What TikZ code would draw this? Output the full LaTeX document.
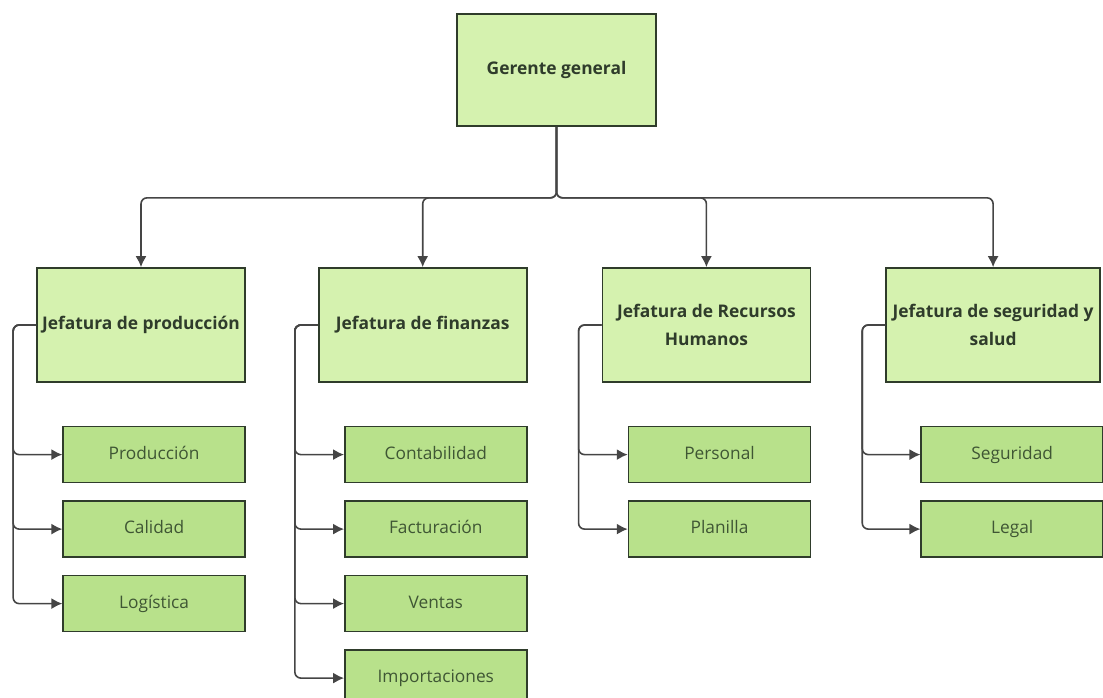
\documentclass[tikz,border=0pt]{standalone}
\usepackage{fontspec}
\setmainfont{Open Sans}
\usetikzlibrary{arrows.meta, positioning}
\definecolor{lgreen}{HTML}{D5F2AF}
\definecolor{mgreen}{HTML}{B8E18B}
\definecolor{lines}{HTML}{454545}
\definecolor{txtd}{HTML}{2F3C2B}
\definecolor{txtm}{HTML}{3F5634}

\begin{document}
\begin{tikzpicture}[x=1pt,y=1pt,
    boss/.style={draw=txtd,line width=1.7pt,fill=lgreen,rectangle,align=center,minimum width=199pt,minimum height=112pt,font=\fontsize{17.4}{28}\selectfont\bfseries,text=txtd},
    head/.style={boss,node distance=74pt,minimum width=208pt,minimum height=114pt,inner sep=2pt},
    unit/.style={draw=txtd,line width=1.5pt,fill=mgreen,rectangle,node distance=17pt,minimum width=182pt,minimum height=56pt,text height=13pt,text depth=4pt,font=\fontsize{17.3}{20}\selectfont,text=txtm},
    link/.style={draw=lines,line width=1.6pt,rounded corners=6pt,-{Latex[length=11pt,width=11pt]}}]
    \useasboundingbox (0,0) rectangle (1103,-698);
    \node (ger) [boss] at (556.5,-70) {Gerente general};
    \node (pro) [head] at (141,-325) {Jefatura de producción};
    \node (fin) [head,right=72pt of pro] {Jefatura de finanzas};
    \node (rhh) [head,right=of fin] {Jefatura de Recursos\\Humanos};
    \node (seg) [head,right=of rhh,minimum width=214pt] {Jefatura de seguridad y\\salud};
    \node (prd) [unit,below left=43pt and 0pt of pro.south east] {Producción};
    \node (cal) [unit,below=of prd] {Calidad};
    \node (log) [unit,below=of cal] {Logística};
    \node (con) [unit,below left=43pt and 0pt of fin.south east] {Contabilidad};
    \node (fac) [unit,below=of con] {Facturación};
    \node (ven) [unit,below=of fac] {Ventas};
    \node (imp) [unit,below=of ven] {Importaciones};
    \node (per) [unit,below left=43pt and 0pt of rhh.south east] {Personal};
    \node (pla) [unit,below=of per] {Planilla};
    \node (sgd) [unit,below left=43pt and -3pt of seg.south east] {Seguridad};
    \node (leg) [unit,below=of sgd] {Legal};
    \draw[link] (ger.south) -- ++(0,-71) -| (pro.north);
    \draw[link] (ger.south) -- ++(0,-71) -| (fin.north);
    \draw[link] (ger.south) -- ++(0,-71) -| (rhh.north);
    \draw[link] (ger.south) -- ++(0,-71) -| (seg.north);
    \draw[link] (pro.west) -- ++(-23,0) |- (prd.west);
    \draw[link] (pro.west) -- ++(-23,0) |- (cal.west);
    \draw[link] (pro.west) -- ++(-23,0) |- (log.west);
    \draw[link] (fin.west) -- ++(-23,0) |- (con.west);
    \draw[link] (fin.west) -- ++(-23,0) |- (fac.west);
    \draw[link] (fin.west) -- ++(-23,0) |- (ven.west);
    \draw[link] (fin.west) -- ++(-23,0) |- (imp.west);
    \draw[link] (rhh.west) -- ++(-23,0) |- (per.west);
    \draw[link] (rhh.west) -- ++(-23,0) |- (pla.west);
    \draw[link] (seg.west) -- ++(-23,0) |- (sgd.west);
    \draw[link] (seg.west) -- ++(-23,0) |- (leg.west);
\end{tikzpicture}
\end{document}
